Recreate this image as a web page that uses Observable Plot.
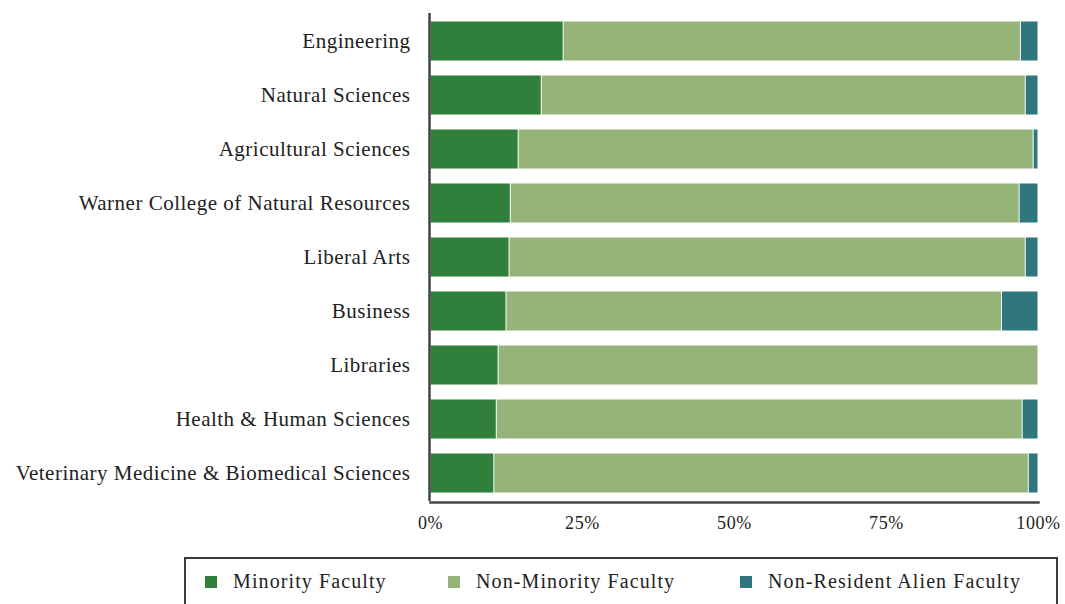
<!DOCTYPE html>
<html>
<head>
<meta charset="utf-8">
<script src="https://cdn.jsdelivr.net/npm/d3@7"></script>
<script src="https://cdn.jsdelivr.net/npm/@observablehq/plot@0.6"></script>
<style>
  body { margin: 0; background: #fff; font-family: "Liberation Serif", serif; }
  #chart { width: 1065px; }
  #chart svg { display: block; }
  #chart g[aria-label="y-axis tick label"] text { font-size: 21px; letter-spacing: 0.5px; }
  #chart g[aria-label="x-axis tick label"] text { font-size: 18px; letter-spacing: 0.6px; }
  #legend {
    margin-top: 12px; margin-left: 184px; width: 874px; height: 60px;
    border: 2px solid #3a3a3a; box-sizing: border-box; position: relative;
    font-family: "Liberation Serif", serif; font-size: 20px; letter-spacing: 1.1px; color: #222;
  }
  .item { position: absolute; top: 11px; display: flex; align-items: center; white-space: nowrap; }
  .sw { width: 12px; height: 12px; margin-right: 16px; display: inline-block; }
</style>
</head>
<body>
<div id="chart"></div>
<div id="legend"></div>
<script>
const colleges = [
  "Engineering",
  "Natural Sciences",
  "Agricultural Sciences",
  "Warner College of Natural Resources",
  "Liberal Arts",
  "Business",
  "Libraries",
  "Health & Human Sciences",
  "Veterinary Medicine & Biomedical Sciences"
];
const seriesNames = ["Minority Faculty", "Non-Minority Faculty", "Non-Resident Alien Faculty"];
const minority    = [21.9, 18.3, 14.5, 13.2, 13.0, 12.5, 11.2, 10.9, 10.5];
const nonResident = [2.9, 2.1, 0.8, 3.1, 2.1, 6.0, 0.0, 2.6, 1.6];
const nonMinority = minority.map((m, i) => +(100 - m - nonResident[i]).toFixed(1));
const seriesColors = ["#307f3a", "#96b37a", "#30767f"];
const xTicks = [0, 25, 50, 75, 100];

const values = [minority, nonMinority, nonResident];
const data = [];
colleges.forEach((c, i) => {
  seriesNames.forEach((s, j) => data.push({college: c, type: s, value: values[j][i]}));
});

const plot = Plot.plot({
  width: 1065,
  height: 545,
  marginLeft: 430,
  marginRight: 27,
  marginTop: 13,
  marginBottom: 44,
  style: {fontFamily: "Liberation Serif, serif", color: "#222", background: "#fff"},
  x: {domain: [0, 100], label: null},
  y: {domain: colleges, label: null, paddingInner: 0.26, paddingOuter: 0.13},
  color: {domain: seriesNames, range: seriesColors},
  marks: [
    Plot.barX(data, Plot.stackX({x: "value", y: "college", fill: "type", order: seriesNames, inset: 0.5})),
    Plot.axisY({tickSize: 0, tickPadding: 20, label: null}),
    Plot.axisX({tickSize: 0, tickPadding: 15, ticks: xTicks, tickFormat: d => d + "%", label: null}),
    Plot.ruleX([0], {stroke: "#444", strokeWidth: 2.5, dx: -1}),
    Plot.frame({anchor: "bottom", stroke: "#444", strokeWidth: 2.5, dy: 1})
  ]
});
document.getElementById("chart").appendChild(plot);

const legend = document.getElementById("legend");
const lefts = [19, 262, 554];
seriesNames.forEach((s, i) => {
  const it = document.createElement("div");
  it.className = "item";
  it.style.left = lefts[i] + "px";
  const sw = document.createElement("span");
  sw.className = "sw";
  sw.style.background = seriesColors[i];
  const t = document.createElement("span");
  t.textContent = s;
  it.appendChild(sw); it.appendChild(t);
  legend.appendChild(it);
});
</script>
</body>
</html>
